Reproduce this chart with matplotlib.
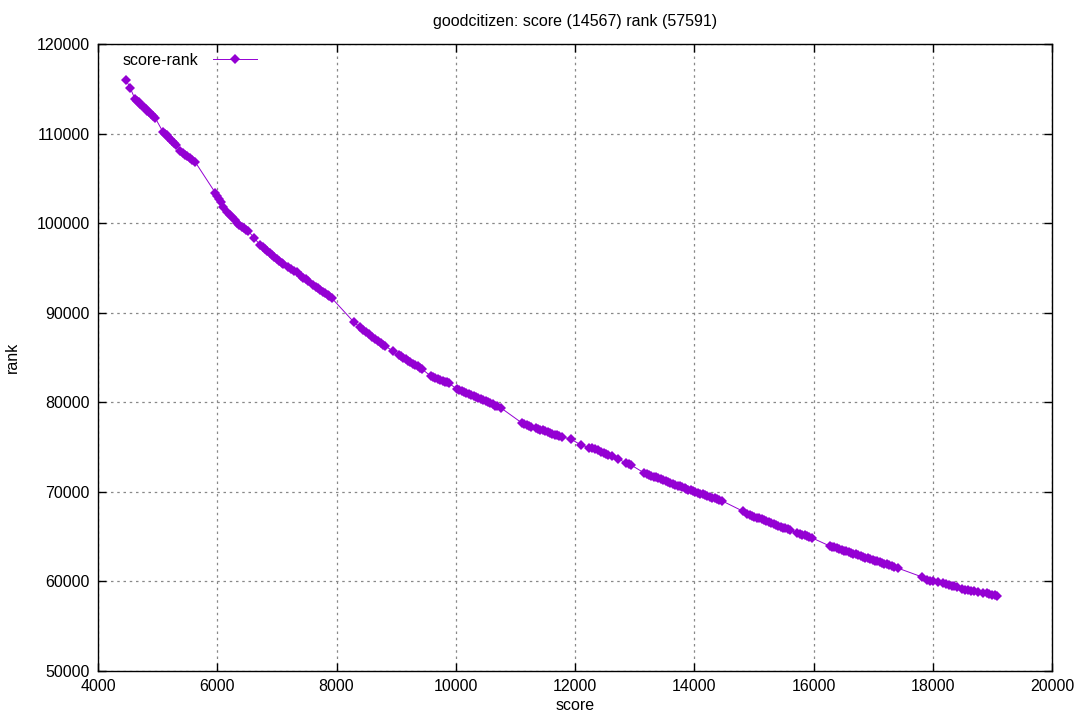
import matplotlib
matplotlib.use("Agg")
import matplotlib.pyplot as plt

plt.rcParams["font.family"] = ["Liberation Sans", "DejaVu Sans"]

title = "goodcitizen: score (14567) rank (57591)"
series_name = "score-rank"

# score / rank pairs
score = [
    4470, 4540, 4620, 4650, 4680, 4710, 4740, 4770, 4800, 4830, 4860, 4890, 4920, 4960,
    5090, 5120, 5150, 5180, 5210, 5240, 5270, 5310,
    5380, 5420, 5460, 5500, 5540, 5580, 5630,
    5970, 6000, 6030, 6060, 6100,
    6170, 6210, 6250, 6290, 6330, 6370, 6410, 6450, 6490, 6520,
    6620,
    6720, 6760, 6800, 6840, 6880, 6920, 6960, 7000, 7040, 7080, 7110,
    7190, 7240, 7290, 7330,
    7400, 7440, 7490, 7530,
    7610, 7650, 7690, 7730, 7770, 7810, 7850, 7880, 7920,
    8290, 8390, 8450, 8500, 8550, 8600, 8650, 8700, 8740, 8780, 8820,
    8940,
    9040, 9080, 9120, 9160, 9200, 9240, 9280, 9320, 9360, 9400, 9430,
    9580, 9620, 9660, 9700, 9740, 9780, 9820, 9850, 9880,
    10020, 10060, 10100, 10140, 10180, 10220, 10260, 10300, 10340, 10380, 10420,
    10460, 10500, 10540, 10580, 10620, 10660, 10700, 10760,
    11110, 11150, 11190, 11230, 11260,
    11340, 11380, 11420, 11460, 11500, 11540, 11580, 11620, 11660, 11700, 11740, 11780,
    11930, 12100, 12240, 12290, 12340, 12390,
    12440, 12480, 12520, 12560, 12620,
    12720, 12860, 12900, 12940,
    13160, 13200, 13240, 13280, 13320, 13360, 13400, 13440, 13480, 13520, 13560,
    13600, 13640, 13680, 13720, 13760, 13800, 13840, 13870,
    13900, 13940, 13980, 14020, 14060, 14100, 14140, 14180, 14220, 14260, 14300,
    14340, 14380, 14420, 14470,
    14810,
    14890, 14930, 14970, 15010, 15050, 15090, 15130, 15170, 15210, 15250, 15290,
    15330, 15370, 15410, 15450, 15490, 15530, 15570, 15600,
    15730, 15770, 15810, 15850, 15890, 15930, 15980,
    16270, 16310, 16350, 16390, 16430, 16470, 16510, 16550, 16590, 16630, 16670,
    16710, 16750, 16790, 16830, 16870, 16910, 16950, 16990, 17030, 17070, 17110,
    17150, 17190, 17230, 17270, 17310, 17350, 17410,
    17820, 17900, 17950, 18000, 18080,
    18170, 18220, 18270, 18320, 18360, 18400,
    18490, 18540, 18590, 18640, 18700, 18760,
    18840, 18910, 18950, 19000, 19040, 19080,
]
rank = [
    115980, 115090, 113860, 113670, 113490, 113300, 113110, 112930, 112740, 112550, 112360, 112180, 111990, 111740,
    110180, 109980, 109790, 109590, 109390, 109190, 108990, 108720,
    108050, 107860, 107660, 107470, 107270, 107080, 106830,
    103370, 103050, 102750, 102370, 101800,
    101250, 100950, 100640, 100340, 100070, 99800, 99620, 99460, 99280, 99120,
    98340,
    97560, 97340, 97120, 96910, 96690, 96470, 96250, 96040, 95820, 95600, 95440,
    95100, 94860, 94700, 94550,
    94100, 93930, 93730, 93540,
    93100, 92910, 92720, 92540, 92350, 92160, 91980, 91830, 91640,
    88960, 88400, 88090, 87840, 87580, 87330, 87070, 86820, 86620, 86450, 86290,
    85730,
    85280, 85120, 84960, 84800, 84640, 84480, 84320, 84160, 84000, 83840, 83720,
    82940, 82830, 82730, 82620, 82520, 82410, 82310, 82230, 82150,
    81480, 81370, 81250, 81140, 81030, 80910, 80800, 80680, 80570, 80450, 80340,
    80220, 80100, 79990, 79870, 79760, 79640, 79530, 79360,
    77690, 77570, 77450, 77330, 77240,
    77130, 77040, 76950, 76860, 76770, 76680, 76590, 76490, 76400, 76310, 76220, 76130,
    75900, 75230, 74950, 74900, 74780, 74620,
    74450, 74350, 74250, 74150, 74000,
    73670, 73220, 73110, 73000,
    72110, 72010, 71910, 71810, 71710, 71610, 71510, 71410, 71310, 71200, 71100,
    71000, 70900, 70800, 70700, 70600, 70500, 70400, 70320,
    70260, 70170, 70080, 69990, 69900, 69810, 69720, 69630, 69540, 69450, 69360,
    69270, 69180, 69090, 68980,
    67860,
    67530, 67430, 67330, 67230, 67130, 67030, 66930, 66830, 66730, 66630, 66530,
    66420, 66320, 66220, 66120, 66020, 65920, 65820, 65740,
    65410, 65320, 65230, 65140, 65050, 64960, 64850,
    63960, 63870, 63790, 63700, 63620, 63530, 63440, 63360, 63270, 63180, 63100,
    63010, 62930, 62840, 62750, 62670, 62580, 62490, 62410, 62320, 62240, 62150,
    62060, 61980, 61890, 61800, 61720, 61630, 61500,
    60500, 60160, 60080, 60010, 59940,
    59830, 59730, 59620, 59520, 59450, 59380,
    59160, 59090, 59020, 58960, 58890, 58820,
    58760, 58680, 58600, 58500, 58430, 58370,
]

x_ticks = [4000, 6000, 8000, 10000, 12000, 14000, 16000, 18000, 20000]
y_ticks = [50000, 60000, 70000, 80000, 90000, 100000, 110000, 120000]

fig = plt.figure(figsize=(10.8, 7.2), dpi=100)
ax = fig.add_axes([98 / 1080, 1 - 671 / 720, (1052 - 98) / 1080, (671 - 44) / 720])

ax.plot(score, rank, color="#9400D3", linewidth=0.7, marker="D", markersize=5,
        markeredgewidth=0, label=series_name)

ax.set_xlim(4000, 20000)
ax.set_ylim(50000, 120000)
ax.set_xticks(x_ticks)
ax.set_yticks(y_ticks)
ax.tick_params(direction="in", length=6, width=1, top=True, right=True,
               labelsize=11.5, pad=6, colors="black")
ax.grid(True, color="#888888", linestyle=(0, (2, 3)), linewidth=0.9)
for s in ax.spines.values():
    s.set_linewidth(1)

ax.set_xlabel("score", fontsize=11.5, labelpad=3)
fig.text(12 / 1080, 1 - 357 / 720, "rank", rotation=90, ha="center", va="center",
         fontsize=11.5)
# gnuplot centres the title over the plot area
ax.set_title(title, fontsize=11.5, pad=13)

ax.legend(loc="upper left", bbox_to_anchor=(0.014, 1.004), frameon=False,
          markerfirst=False, fontsize=11.5, handlelength=2.8,
          handletextpad=0.9, borderaxespad=0.3)

fig.savefig("out.png", dpi=100)
